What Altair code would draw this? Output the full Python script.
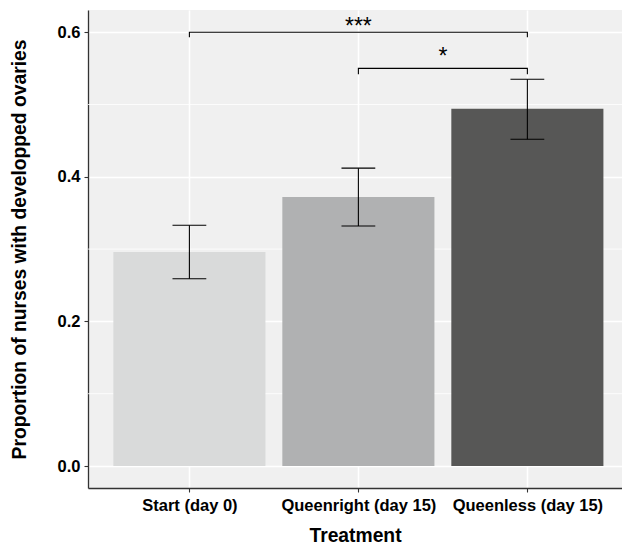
import json
import altair as alt
import pandas as pd

# ---- data ----
treatments = ["Start (day 0)", "Queenright (day 15)", "Queenless (day 15)"]
positions = [1, 2, 3]
proportions = [0.296, 0.372, 0.494]
err_low = [0.259, 0.332, 0.452]
err_high = [0.333, 0.412, 0.535]
bar_colors = ["#D9DADA", "#B0B1B2", "#575756"]

minor_grid = [0.1, 0.3, 0.5]

bracket_ids = ["a", "a", "a", "a", "b", "b", "b", "b"]
bracket_x = [1, 1, 3, 3, 2, 2, 3, 3]
bracket_y = [0.593, 0.6, 0.6, 0.593, 0.542, 0.55, 0.55, 0.542]
bracket_order = [0, 1, 2, 3, 0, 1, 2, 3]

sig_labels = ["***", "*"]
sig_x = [2, 2.5]
sig_y = [0.607, 0.566]

# ---- tables ----
bars = pd.DataFrame({
    "treatment": treatments, "pos": positions, "prop": proportions,
    "lo": err_low, "hi": err_high,
})
minor = pd.DataFrame({"v": minor_grid})
brackets = pd.DataFrame({"id": bracket_ids, "bx": bracket_x, "by": bracket_y,
                         "o": bracket_order})
sig = pd.DataFrame({"label": sig_labels, "sx": sig_x, "sy": sig_y})

label_expr = json.dumps(treatments) + "[datum.value - 1]"

x_scale = alt.Scale(domain=[0.4, 3.56], nice=False, zero=False)
y_scale = alt.Scale(domain=[-0.0304, 0.6307], nice=False, zero=False)

x_axis = alt.Axis(values=positions, labelExpr=label_expr, title="Treatment",
                  grid=True, labelPadding=5, titlePadding=13)
y_axis = alt.Axis(values=[0, 0.2, 0.4, 0.6], format=".1f",
                  title="Proportion of nurses with developped ovaries",
                  grid=True, labelPadding=4, titlePadding=28)


def X(field, **kw):
    return alt.X(field, type="quantitative", scale=x_scale, axis=x_axis, **kw)


def Y(field, **kw):
    return alt.Y(field, type="quantitative", scale=y_scale, axis=y_axis, **kw)


minor_layer = alt.Chart(minor).mark_rule(color="white", strokeWidth=0.8).encode(
    y=Y("v")
)

bar_layer = alt.Chart(bars).transform_calculate(
    bl="datum.pos - 0.45", br="datum.pos + 0.45", z="0"
).mark_bar().encode(
    x=X("bl:Q"), x2="br:Q",
    y=Y("prop:Q"), y2="z:Q",
    color=alt.Color("treatment:N", scale=alt.Scale(domain=treatments, range=bar_colors),
                    legend=None),
)

err_layer = alt.Chart(bars).mark_rule(color="black", strokeWidth=1.1).encode(
    x=X("pos:Q"), y=Y("lo:Q"), y2="hi:Q"
)

cap_lo = alt.Chart(bars).transform_calculate(
    cl="datum.pos - 0.1", cr="datum.pos + 0.1"
).mark_rule(color="black", strokeWidth=1.1).encode(
    x=X("cl:Q"), x2="cr:Q", y=Y("lo:Q")
)
cap_hi = alt.Chart(bars).transform_calculate(
    cl="datum.pos - 0.1", cr="datum.pos + 0.1"
).mark_rule(color="black", strokeWidth=1.1).encode(
    x=X("cl:Q"), x2="cr:Q", y=Y("hi:Q")
)

bracket_layer = alt.Chart(brackets).mark_line(color="black", strokeWidth=1.1).encode(
    x=X("bx:Q"), y=Y("by:Q"), detail="id:N", order="o:Q"
)

sig_layer = alt.Chart(sig).mark_text(
    fontSize=23, font="Liberation Sans", color="black", baseline="middle"
).encode(
    x=X("sx:Q"), y=Y("sy:Q"), text="label:N"
)

chart = alt.layer(
    minor_layer, bar_layer, err_layer, cap_lo, cap_hi, bracket_layer, sig_layer
).properties(
    width=534, height=478,
    autosize=alt.AutoSizeParams(type="none"),
    padding={"left": 88, "top": 10, "right": 0, "bottom": 57},
    background="white",
).configure_view(
    fill="#F0F0F0", stroke=None
).configure_axis(
    domainColor="#333333", domainWidth=1.3,
    tickColor="#333333", tickSize=4, tickWidth=1.1,
    labelFont="Liberation Sans", labelFontSize=16.5, labelFontWeight="bold",
    labelColor="black",
    titleFont="Liberation Sans", titleFontSize=19.3, titleFontWeight="bold",
    titleColor="black",
    gridColor="white", gridWidth=1.5,
)

chart.save("out.html", embed_options={"renderer": "svg", "actions": False})
